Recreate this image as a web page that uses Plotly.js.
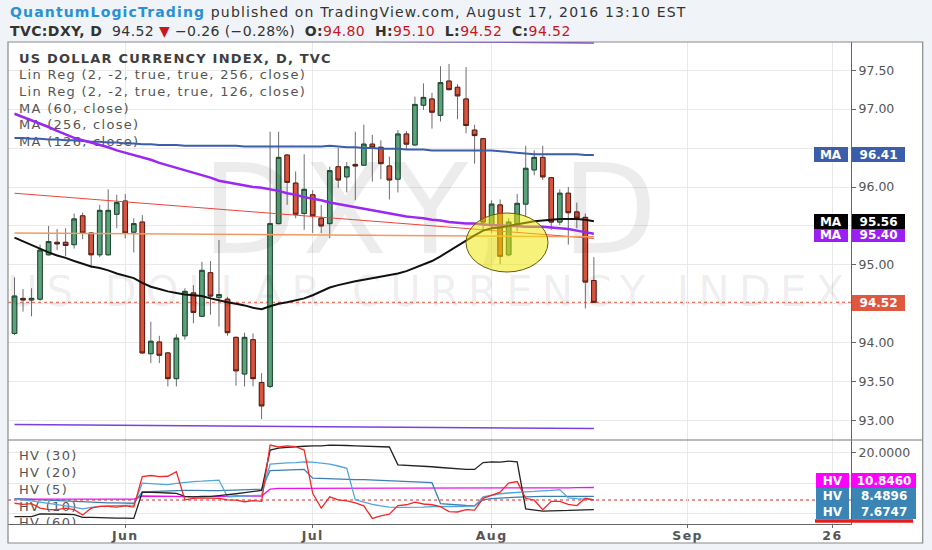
<!DOCTYPE html>
<html><head><meta charset="utf-8">
<script src="https://cdn.plot.ly/plotly-3.0.1.min.js"></script>
<style>html,body{margin:0;padding:0;background:#f0f3f7;}#chart{width:932px;height:550px;}</style>
</head><body><div id="chart"></div>
<script>
// ---------------- DATA ----------------
const dates = ['2016-05-13','2016-05-16','2016-05-17','2016-05-18','2016-05-19','2016-05-20','2016-05-23','2016-05-24','2016-05-25','2016-05-26','2016-05-27','2016-05-30','2016-05-31',
'2016-06-01','2016-06-02','2016-06-03','2016-06-06','2016-06-07','2016-06-08','2016-06-09','2016-06-10','2016-06-13','2016-06-14','2016-06-15','2016-06-16','2016-06-17','2016-06-20','2016-06-21','2016-06-22','2016-06-23','2016-06-24','2016-06-27','2016-06-28','2016-06-29','2016-06-30',
'2016-07-01','2016-07-04','2016-07-05','2016-07-06','2016-07-07','2016-07-08','2016-07-11','2016-07-12','2016-07-13','2016-07-14','2016-07-15','2016-07-18','2016-07-19','2016-07-20','2016-07-21','2016-07-22','2016-07-25','2016-07-26','2016-07-27','2016-07-28','2016-07-29',
'2016-08-01','2016-08-02','2016-08-03','2016-08-04','2016-08-05','2016-08-08','2016-08-09','2016-08-10','2016-08-11','2016-08-12','2016-08-15','2016-08-16','2016-08-17'];

const open = [94.12,94.57,94.55,94.56,95.13,95.29,95.29,95.26,95.63,95.41,95.13,95.13,95.65,
95.82,95.42,95.55,93.86,94.01,93.87,93.54,94.09,94.64,94.34,94.90,94.58,94.56,94.07,93.60,94.04,93.49,93.44,95.53,96.41,96.05,95.66,
95.90,95.60,95.53,96.26,96.13,96.29,96.28,96.55,96.51,96.27,96.10,96.68,96.54,97.05,97.13,96.92,97.36,97.28,97.13,96.73,96.62,
95.51,95.77,95.13,95.53,95.78,96.22,96.38,96.12,95.55,95.92,95.68,95.61,94.80];
const high = [94.84,94.69,94.70,95.26,95.50,95.46,95.47,95.66,95.67,95.42,95.77,95.97,95.90,
95.91,95.60,95.64,94.27,94.09,93.88,94.11,94.70,94.74,95.04,95.05,95.32,94.59,94.08,94.13,94.12,93.61,96.71,96.71,96.42,96.20,96.42,
95.96,95.77,96.26,96.50,96.32,96.71,96.80,96.67,96.60,96.39,96.73,96.72,97.16,97.33,97.21,97.55,97.58,97.32,97.54,96.80,96.63,
95.83,95.84,95.60,95.91,96.53,96.47,96.53,96.13,95.97,96.00,95.80,95.66,95.10];
const low = [94.10,94.40,94.34,94.54,95.12,95.19,95.11,95.21,95.33,94.96,95.10,95.12,95.47,
95.34,95.16,93.86,93.74,93.74,93.44,93.44,94.04,94.25,94.33,94.36,94.21,94.09,93.45,93.44,93.44,93.02,93.42,95.52,95.77,95.60,95.45,
95.41,95.41,95.34,95.99,95.93,95.83,96.27,96.07,96.10,95.84,95.93,96.48,96.53,96.99,96.75,96.84,97.24,96.87,96.69,96.30,95.45,
95.41,95.01,95.11,95.43,95.62,96.15,96.09,95.45,95.51,95.26,95.47,94.44,94.52];
const close = [94.60,94.55,94.57,95.19,95.30,95.27,95.25,95.59,95.41,95.13,95.70,95.70,95.80,
95.41,95.53,93.87,94.02,93.84,93.54,94.06,94.66,94.39,94.93,94.60,94.62,94.13,93.64,94.07,93.54,93.19,95.53,96.38,96.06,95.65,95.97,
95.63,95.50,96.21,96.09,96.26,96.27,96.55,96.51,96.30,96.09,96.68,96.55,97.06,97.15,96.96,97.34,97.25,97.17,96.79,96.66,95.55,
95.78,95.11,95.55,95.79,96.24,96.38,96.13,95.55,95.92,95.67,95.60,94.78,94.52];

const ma60 = [95.35,95.30,95.26,95.20,95.16,95.12,95.09,95.05,95.01,94.98,94.96,94.93,94.89,94.86,94.83,94.77,94.72,94.69,94.66,94.64,
94.62,94.61,94.60,94.57,94.54,94.52,94.50,94.48,94.45,94.43,94.47,94.50,94.52,94.55,94.57,94.61,94.66,94.71,94.74,94.77,
94.79,94.81,94.83,94.85,94.87,94.89,94.92,94.96,95.01,95.05,95.11,95.18,95.25,95.32,95.38,95.44,95.47,95.48,95.50,95.52,
95.54,95.56,95.57,95.58,95.59,95.59,95.59,95.58,95.56];
const ma256 = [96.94,96.90,96.86,96.82,96.77,96.72,96.67,96.63,96.60,96.57,96.54,96.51,96.47,96.44,96.41,96.38,96.35,96.31,96.28,96.25,
96.22,96.19,96.15,96.12,96.08,96.06,96.04,96.02,96.00,95.99,95.97,95.95,95.92,95.90,95.87,95.85,95.83,95.80,95.78,95.76,
95.74,95.72,95.70,95.68,95.66,95.64,95.62,95.61,95.60,95.58,95.57,95.55,95.54,95.53,95.53,95.52,95.51,95.51,95.50,95.50,
95.49,95.49,95.49,95.48,95.47,95.46,95.44,95.42,95.40];
const ma126 = [96.63,96.63,96.62,96.62,96.61,96.61,96.60,96.60,96.59,96.58,96.58,96.57,96.57,96.56,96.56,96.55,96.55,96.54,96.54,96.54,
96.53,96.53,96.53,96.53,96.53,96.53,96.53,96.52,96.52,96.52,96.52,96.52,96.52,96.52,96.52,96.52,96.52,96.53,96.52,96.51,
96.51,96.50,96.50,96.49,96.49,96.49,96.48,96.48,96.48,96.47,96.47,96.47,96.47,96.47,96.47,96.47,96.47,96.46,96.45,96.44,
96.43,96.42,96.42,96.42,96.42,96.42,96.42,96.41,96.41];
const linReg256 = [95.92, 95.34];
const linReg126 = [95.41, 95.36];
const linRegUpper = [97.90, 97.85];
const linRegLower = [92.95, 92.90];

const hv30 = [3.2,3.2,3.2,3.9,3.9,3.8,3.8,3.7,3.0,3.0,2.9,2.9,2.8,2.8,2.7,9.6,9.6,9.5,9.4,9.3,8.5,8.4,8.5,8.5,8.7,8.9,9.2,9.5,9.8,10.1,20.7,21.2,21.4,21.6,
21.7,21.8,21.8,22.0,22.0,21.9,21.8,21.7,21.6,21.6,21.5,16.8,16.7,16.6,16.4,16.3,16.1,15.9,15.7,15.6,15.6,17.4,17.6,17.5,17.8,17.6,5.2,4.8,4.6,4.7,4.7,4.8,4.9,5.0,5.0];
const hv20 = [7.9,7.8,7.7,7.6,7.5,7.4,7.3,7.2,7.0,6.9,6.9,6.8,6.8,6.7,6.7,9.7,9.8,9.8,9.9,10.0,10.1,10.1,10.0,10.0,10.0,10.1,10.2,10.2,10.3,10.4,
15.3,15.4,15.5,15.6,15.6,13.3,13.2,13.2,13.1,13.0,12.9,12.9,12.8,12.7,12.6,12.5,12.4,12.3,12.2,12.1,6.6,6.4,6.2,6.1,6.0,
7.6,7.9,8.1,8.2,8.3,8.4,8.4,8.5,8.5,8.5,8.5,8.5,8.5,8.4896];
const hv5 = [6.7,6.4,6.6,5.4,5.0,5.0,5.4,5.0,3.6,5.4,5.9,5.9,5.7,6.0,5.7,13.7,14.0,13.7,13.8,15.0,7.6,8.0,8.1,8.1,8.0,7.6,7.5,7.1,7.4,7.2,22.0,21.5,21.8,21.6,
20.7,9.3,5.4,8.4,7.6,7.3,6.8,6.0,2.7,3.4,3.8,6.1,6.3,7.0,6.5,6.3,5.8,4.5,4.4,5.0,4.9,8.0,8.9,9.6,12.0,12.4,8.0,7.5,5.0,7.2,7.2,6.4,6.1,8.0,7.55];
const hv10 = [7.8,7.6,7.3,7.0,6.6,6.3,6.0,5.7,5.2,5.6,5.9,6.0,6.1,6.2,6.2,12.0,11.9,11.7,11.6,11.9,12.2,12.4,12.5,12.7,12.8,8.4,8.5,8.6,8.7,8.8,
17.0,17.2,17.3,17.4,17.6,17.5,17.3,17.0,16.5,15.9,7.6,6.9,6.4,6.0,5.7,5.6,5.6,5.6,5.7,5.8,5.9,5.9,5.8,5.9,6.0,
8.4,8.9,9.2,9.4,9.6,9.7,9.8,9.9,10.1,10.3,8.1,7.9,7.8,7.6747];
const hv60 = [7.8,7.8,7.8,7.8,7.8,7.8,7.8,7.8,7.8,7.8,7.8,7.8,7.8,7.8,7.8,8.6,8.6,8.5,8.5,8.5,8.4,8.4,8.4,8.5,8.5,8.5,8.6,8.6,8.6,8.6,
10.4,10.6,10.6,10.6,10.6,10.6,10.6,10.6,10.6,10.6,10.6,10.6,10.6,10.6,10.6,10.6,10.6,10.6,10.6,10.6,10.6,10.6,10.6,10.6,10.6,
10.6,10.65,10.65,10.7,10.7,10.7,10.7,10.7,10.7,10.75,10.75,10.8,10.85,10.846];

const tickDates = ['2016-06-01','2016-07-01','2016-08-01','2016-09-01','2016-09-26'];
const tickLabels = ['Jun','Jul','Aug','Sep','26'];
const priceTicks = [93.0, 93.5, 94.0, 94.5, 95.0, 95.5, 96.0, 96.5, 97.0, 97.5];
const priceTicksHidden = [94.5, 95.5, 96.5];   // covered by the value labels in the reference
const priceLegend = ['US DOLLAR CURRENCY INDEX, D, TVC','Lin Reg (2, -2, true, true, 256, close)','Lin Reg (2, -2, true, true, 126, close)','MA (60, close)','MA (256, close)','MA (126, close)'];
const hvLegend = ['HV (30)','HV (20)','HV (5)','HV (10)','HV (60)'];

// ---------------- GEOMETRY HELPERS (layout only) ----------------
const L = 8, R = 851, T = 42, B = 524, SEP = 440, FR = 922.7, FB = 543;
const bar0 = 14.5, barStep = 8.52;
const pxToIdx = px => (px - bar0) / barStep;
const priceAt = py => 93 + (420.7 - py) / 77.9;
const hvAt = py => 20 - (py - 452.7) / 3.8;
const xp = px => (px - L) / (R - L);
const yp = py => (B - py) / (B - T);

function tradingIndex(ds) {
  const start = new Date(dates[0] + 'T00:00:00Z'), d = new Date(ds + 'T00:00:00Z');
  let n = 0;
  for (let t = new Date(start); t < d; t.setUTCDate(t.getUTCDate() + 1)) {
    const w = t.getUTCDay(); if (w !== 0 && w !== 6) n++;
  }
  return n;
}
const idx = dates.map((d, i) => i);
const last = dates.length - 1;
const ls = (s, px) => '<span style="letter-spacing:' + px + 'px">' + s + '</span>';

const FONT = 'DejaVu Sans';
const GREEN = '#5aa27a', GREEN_EDGE = '#1f4a31', RED = '#d9543c', RED_EDGE = '#5e1b10', WICK = '#6e6e6e';

// ---------------- TRACES ----------------
const traces = [];
traces.push({type:'candlestick', x:idx, open:open, high:high, low:low, close:close, xaxis:'x', yaxis:'y',
  increasing:{line:{color:WICK,width:1}, fillcolor:'rgba(0,0,0,0)'},
  decreasing:{line:{color:WICK,width:1}, fillcolor:'rgba(0,0,0,0)'},
  whiskerwidth:0, hoverinfo:'none', showlegend:false});
traces.push({type:'candlestick', x:idx, open:open, close:close,
  high:open.map((o,i)=>Math.max(o, close[i])), low:open.map((o,i)=>Math.min(o, close[i])),
  xaxis:'x', yaxis:'y',
  increasing:{line:{color:GREEN_EDGE,width:1}, fillcolor:GREEN},
  decreasing:{line:{color:RED_EDGE,width:1}, fillcolor:RED},
  whiskerwidth:0, hoverinfo:'none', showlegend:false});
// watermark
traces.push({type:'scatter', mode:'text', xaxis:'x', yaxis:'y', hoverinfo:'skip', showlegend:false,
  x:[pxToIdx(432), pxToIdx(430)], y:[priceAt(222), priceAt(295)],
  text:[ls('DXY, D',5), ls('US DOLLAR CURRENCY INDEX',9)],
  textposition:'middle center', textfont:{family:FONT, size:[124,42], color:'rgba(0,0,0,0.075)'}});
// price legend
const legPy = [59.7, 76.2, 92.7, 109.3, 125.8, 142.5];
traces.push({type:'scatter', mode:'text', xaxis:'x', yaxis:'y', hoverinfo:'skip', showlegend:false,
  x:priceLegend.map(()=>pxToIdx(19)), y:legPy.map(priceAt),
  text:priceLegend.map((s,i)=> i===0 ? '<b>'+ls(s,1.2)+'</b>' : ls(s,1.3)),
  textposition:'middle right', textfont:{family:FONT, size:13, color:priceLegend.map((s,i)=> i===0 ? '#3e3e3e' : '#555555')}});
// indicator lines
const line2 = (vals, color, width) => ({type:'scatter', mode:'lines', x:[0,last], y:vals, xaxis:'x', yaxis:'y',
  line:{color:color, width:width}, hoverinfo:'skip', showlegend:false});
traces.push(line2(linRegUpper, '#7b3fe4', 1.5));
traces.push(line2(linRegLower, '#7b3fe4', 1.5));
traces.push(line2(linReg256, '#e8473a', 1));
traces.push(line2(linReg126, '#f39a60', 1.5));
const maLine = (vals, color, width) => ({type:'scatter', mode:'lines', x:idx, y:vals, xaxis:'x', yaxis:'y',
  line:{color:color, width:width}, hoverinfo:'skip', showlegend:false});
traces.push(maLine(ma126, '#3b5eab', 2));
traces.push(maLine(ma256, '#9b27f2', 2.5));
traces.push(maLine(ma60, '#111111', 2));
// HV legend
const hvLegPy = [457, 474, 490.7, 507.3, 523.8];
traces.push({type:'scatter', mode:'text', xaxis:'x', yaxis:'y2', hoverinfo:'skip', showlegend:false, cliponaxis:true,
  x:hvLegend.map(()=>pxToIdx(19)), y:hvLegPy.map(hvAt), text:hvLegend.map(s=>ls(s,1.3)),
  textposition:'middle right', textfont:{family:FONT, size:13, color:'#555555'}});
const hvLine = (vals, color) => ({type:'scatter', mode:'lines', x:idx, y:vals, xaxis:'x', yaxis:'y2',
  line:{color:color, width:1.3}, hoverinfo:'skip', showlegend:false});
traces.push(hvLine(hv60, '#ee11ee'));
traces.push(hvLine(hv20, '#3c7fae'));
traces.push(hvLine(hv10, '#4ea6dc'));
traces.push(hvLine(hv30, '#222222'));
traces.push(hvLine(hv5, '#f02a2a'));

// ---------------- SHAPES / ANNOTATIONS ----------------
const shapes = [
  {type:'rect', layer:'below', xref:'paper', yref:'paper', x0:xp(L), x1:xp(FR), y0:yp(FB), y1:yp(T), fillcolor:'#ffffff', line:{width:0}},
  {type:'line', layer:'below', xref:'paper', yref:'y', x0:0, x1:1, y0:close[last], y1:close[last], line:{color:'#e0553d', width:1, dash:'dot'}},
  {type:'line', layer:'below', xref:'paper', yref:'y2', x0:0, x1:1, y0:hv5[last], y1:hv5[last], line:{color:'#e02020', width:1, dash:'dot'}},
  {type:'circle', layer:'above', xref:'x', yref:'y', x0:pxToIdx(466), x1:pxToIdx(548), y0:priceAt(272), y1:priceAt(213),
    fillcolor:'rgba(240,232,0,0.52)', line:{color:'#5f5e0c', width:1}},
  {type:'line', layer:'above', xref:'paper', yref:'paper', x0:xp(L), x1:xp(FR), y0:yp(SEP), y1:yp(SEP), line:{color:'#777', width:1}},
  {type:'rect', layer:'above', xref:'paper', yref:'paper', x0:xp(L), x1:xp(FR), y0:yp(FB), y1:yp(T), line:{color:'#8a8a8a', width:1.2}},
  {type:'rect', layer:'above', xref:'paper', yref:'paper', x0:xp(815), x1:xp(913), y0:yp(522.7), y1:yp(519.3), fillcolor:'#e41e1e', line:{width:0}}
];

function box(x0, x1, y0, y1, text, bg) {
  return {xref:'paper', yref:'paper', x:xp((x0+x1)/2), y:yp((y0+y1)/2), xanchor:'center', yanchor:'middle',
    text:'<b>'+text+'</b>', showarrow:false, bgcolor:bg, width:x1-x0, height:y1-y0, borderpad:0, borderwidth:0,
    font:{family:FONT, size:12, color:'#ffffff'}};
}
const annotations = [
  box(814, 847.7, 147.3, 162.3, 'MA', '#3b5eab'), box(851.8, 905, 147.3, 162.3, ma126[last].toFixed(2), '#3b5eab'),
  box(814, 847.7, 213.5, 228.8, 'MA', '#000000'), box(851.8, 905, 213.5, 228.8, ma60[last].toFixed(2), '#000000'),
  box(814, 847.7, 228.8, 241.5, 'MA', '#9b1ff5'), box(851.8, 905, 228.8, 241.5, ma256[last].toFixed(2), '#9b1ff5'),
  box(851.8, 905, 295, 310.5, close[last].toFixed(2), '#e0573f'),
  box(815.3, 848.7, 472.7, 488.3, 'HV', '#ff00ff'), box(851.8, 916, 472.7, 488.3, hv60[last].toFixed(4), '#ff00ff'),
  box(815.3, 848.7, 488.3, 504, 'HV', '#3a84b6'), box(851.8, 916, 488.3, 504, hv20[last].toFixed(4), '#3a84b6'),
  box(815.3, 848.7, 504, 519.3, 'HV', '#3a84b6'), box(851.8, 916, 504, 519.3, hv10[last].toFixed(4), '#3a84b6'),
  {xref:'paper', yref:'paper', x:xp(8), y:yp(12), xanchor:'left', yanchor:'middle', showarrow:false,
    font:{family:FONT, size:14, color:'#333333'},
    text:ls('<span style="color:#2a90d6"><b>QuantumLogicTrading</b></span> published on TradingView.com, August 17, 2016 13:10 EST', 1.15)},
  {xref:'paper', yref:'paper', x:xp(8), y:yp(31), xanchor:'left', yanchor:'middle', showarrow:false,
    font:{family:FONT, size:14, color:'#333333'},
    text:ls('<b>TVC:DXY, D</b>\u00a0 94.52 <span style="color:#c8161d">▼</span> −0.26 (−0.28%)\u00a0 <b>O:</b><span style="color:#c8161d">94.80</span>\u00a0 <b>H:</b><span style="color:#c8161d">95.10</span>\u00a0 <b>L:</b><span style="color:#c8161d">94.52</span>\u00a0 <b>C:</b><span style="color:#c8161d">94.52</span>', 0.4)}
];

const axisCommon = {showline:true, linecolor:'#666', linewidth:1, ticks:'outside', ticklen:4, tickcolor:'#666',
  zeroline:false, fixedrange:true, gridcolor:'#e9e9e9', gridwidth:1};

const layout = {
  width:932, height:550, margin:{l:L, r:932-R, t:T, b:550-B, autoexpand:false},
  paper_bgcolor:'#f0f3f7', plot_bgcolor:'#ffffff', showlegend:false, boxgap:0.24, boxmode:'overlay',
  font:{family:FONT, color:'#555'}, hovermode:false, dragmode:false,
  xaxis:Object.assign({}, axisCommon, {domain:[0,1], range:[pxToIdx(L), pxToIdx(R)], anchor:'y2',
    tickmode:'array', tickvals:tickDates.map(tradingIndex), ticktext:tickLabels.map(s=>ls(s,1.4)),
    showgrid:true, rangeslider:{visible:false}, ticklen:3, ticklabelstandoff:-3,
    tickfont:{family:FONT, size:12.5, color:'#555', weight:'bold'}}),
  yaxis:Object.assign({}, axisCommon, {domain:[yp(SEP),1], range:[priceAt(SEP), priceAt(T)], side:'right', anchor:'x',
    tickmode:'array', tickvals:priceTicks,
    ticktext:priceTicks.map(v => priceTicksHidden.includes(v) ? '' : v.toFixed(2)), showgrid:true,
    tickfont:{family:FONT, size:12.5, color:'#555'}}),
  yaxis2:Object.assign({}, axisCommon, {domain:[0,yp(SEP)], range:[hvAt(B), hvAt(SEP)], side:'right', anchor:'x',
    tickmode:'array', tickvals:[20,12,4], ticktext:['20.0000','',''], showgrid:true,
    tickfont:{family:FONT, size:12.5, color:'#555'}}),
  shapes:shapes, annotations:annotations
};

Plotly.newPlot('chart', traces, layout, {staticPlot:true, displayModeBar:false});
</script></body></html>
